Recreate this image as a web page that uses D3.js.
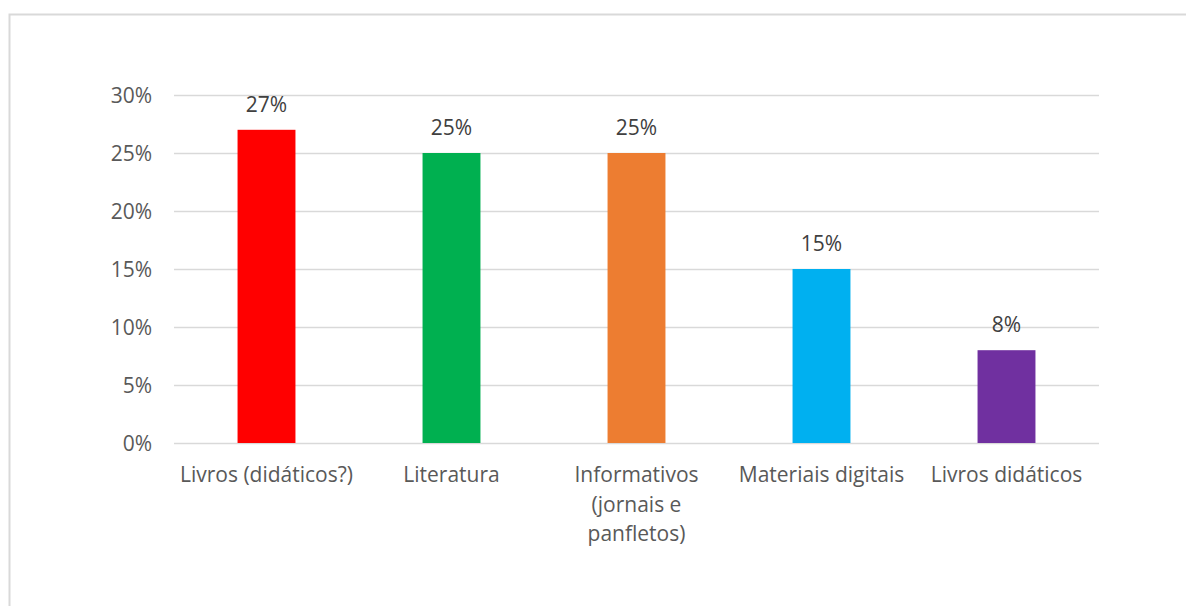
<!DOCTYPE html>
<html>
<head>
<meta charset="utf-8">
<script src="https://cdn.jsdelivr.net/npm/d3@7"></script>
<style>
  html, body { margin: 0; padding: 0; background: #fff; }
  svg { display: block; }
  text { font-family: "Open Sans", "Noto Sans", sans-serif; }
</style>
</head>
<body>
<svg id="chart" width="1186" height="606"></svg>
<script>
// Data
const categories = [
  ["Livros (didáticos?)"],
  ["Literatura"],
  ["Informativos", "(jornais e", "panfletos)"],
  ["Materiais digitais"],
  ["Livros didáticos"]
];
const values = [0.27, 0.25, 0.25, 0.15, 0.08];
const barColors = ["#FF0000", "#00B050", "#ED7D31", "#00B0F0", "#7030A0"];
const yTicks = [0, 0.05, 0.10, 0.15, 0.20, 0.25, 0.30];

const svg = d3.select("#chart");
const W = 1186, H = 606;
const fontSize = "21px";

// Outer frame (only left and top edges fall inside the view)
svg.append("path")
  .attr("d", `M9.5,${H} V14.5 H${W}`)
  .attr("fill", "none")
  .attr("stroke", "#D9D9D9")
  .attr("stroke-width", 2);

const plot = { left: 174, right: 1099, top: 95, bottom: 443 };

const x = d3.scaleBand()
  .domain(d3.range(values.length))
  .range([plot.left, plot.right])
  .paddingInner(0.687)
  .paddingOuter(0.3435);

const y = d3.scaleLinear()
  .domain([0, 0.30])
  .range([plot.bottom, plot.top]);

const pct = d3.format(".0%");

// Gridlines
svg.append("g")
  .selectAll("line")
  .data(yTicks)
  .join("line")
  .attr("x1", plot.left)
  .attr("x2", plot.right)
  .attr("y1", d => Math.round(y(d)) + 0.5)
  .attr("y2", d => Math.round(y(d)) + 0.5)
  .attr("stroke", "#D9D9D9")
  .attr("stroke-width", 1.5);

// Y axis labels
const yAxis = d3.axisLeft(y).tickValues(yTicks).tickFormat(pct).tickSize(0).tickPadding(22);
const gy = svg.append("g").attr("transform", `translate(${plot.left},0)`).call(yAxis);
gy.select(".domain").remove();
gy.selectAll("text")
  .attr("fill", "#595959")
  .style("font-family", "'Open Sans', 'Noto Sans', sans-serif")
  .style("font-size", fontSize)
  .attr("dy", "0.35em");

// Bars
svg.append("g")
  .selectAll("rect")
  .data(values)
  .join("rect")
  .attr("x", (d, i) => x(i))
  .attr("width", x.bandwidth())
  .attr("y", d => y(d))
  .attr("height", d => y(0) - y(d))
  .attr("fill", (d, i) => barColors[i]);

// Value labels
svg.append("g")
  .selectAll("text")
  .data(values)
  .join("text")
  .attr("x", (d, i) => x(i) + x.bandwidth() / 2)
  .attr("y", d => y(d) - 18)
  .attr("text-anchor", "middle")
  .attr("fill", "#404040")
  .style("font-size", fontSize)
  .text(d => pct(d));

// Category labels
const catG = svg.append("g")
  .selectAll("text")
  .data(categories)
  .join("text")
  .attr("x", (d, i) => x(i) + x.bandwidth() / 2)
  .attr("y", 482)
  .attr("text-anchor", "middle")
  .attr("fill", "#595959")
  .style("font-size", fontSize);
catG.selectAll("tspan")
  .data(d => d)
  .join("tspan")
  .attr("x", function() { return this.parentNode.getAttribute("x"); })
  .attr("dy", (d, j) => j === 0 ? 0 : 29.5)
  .text(d => d);
</script>
</body>
</html>
